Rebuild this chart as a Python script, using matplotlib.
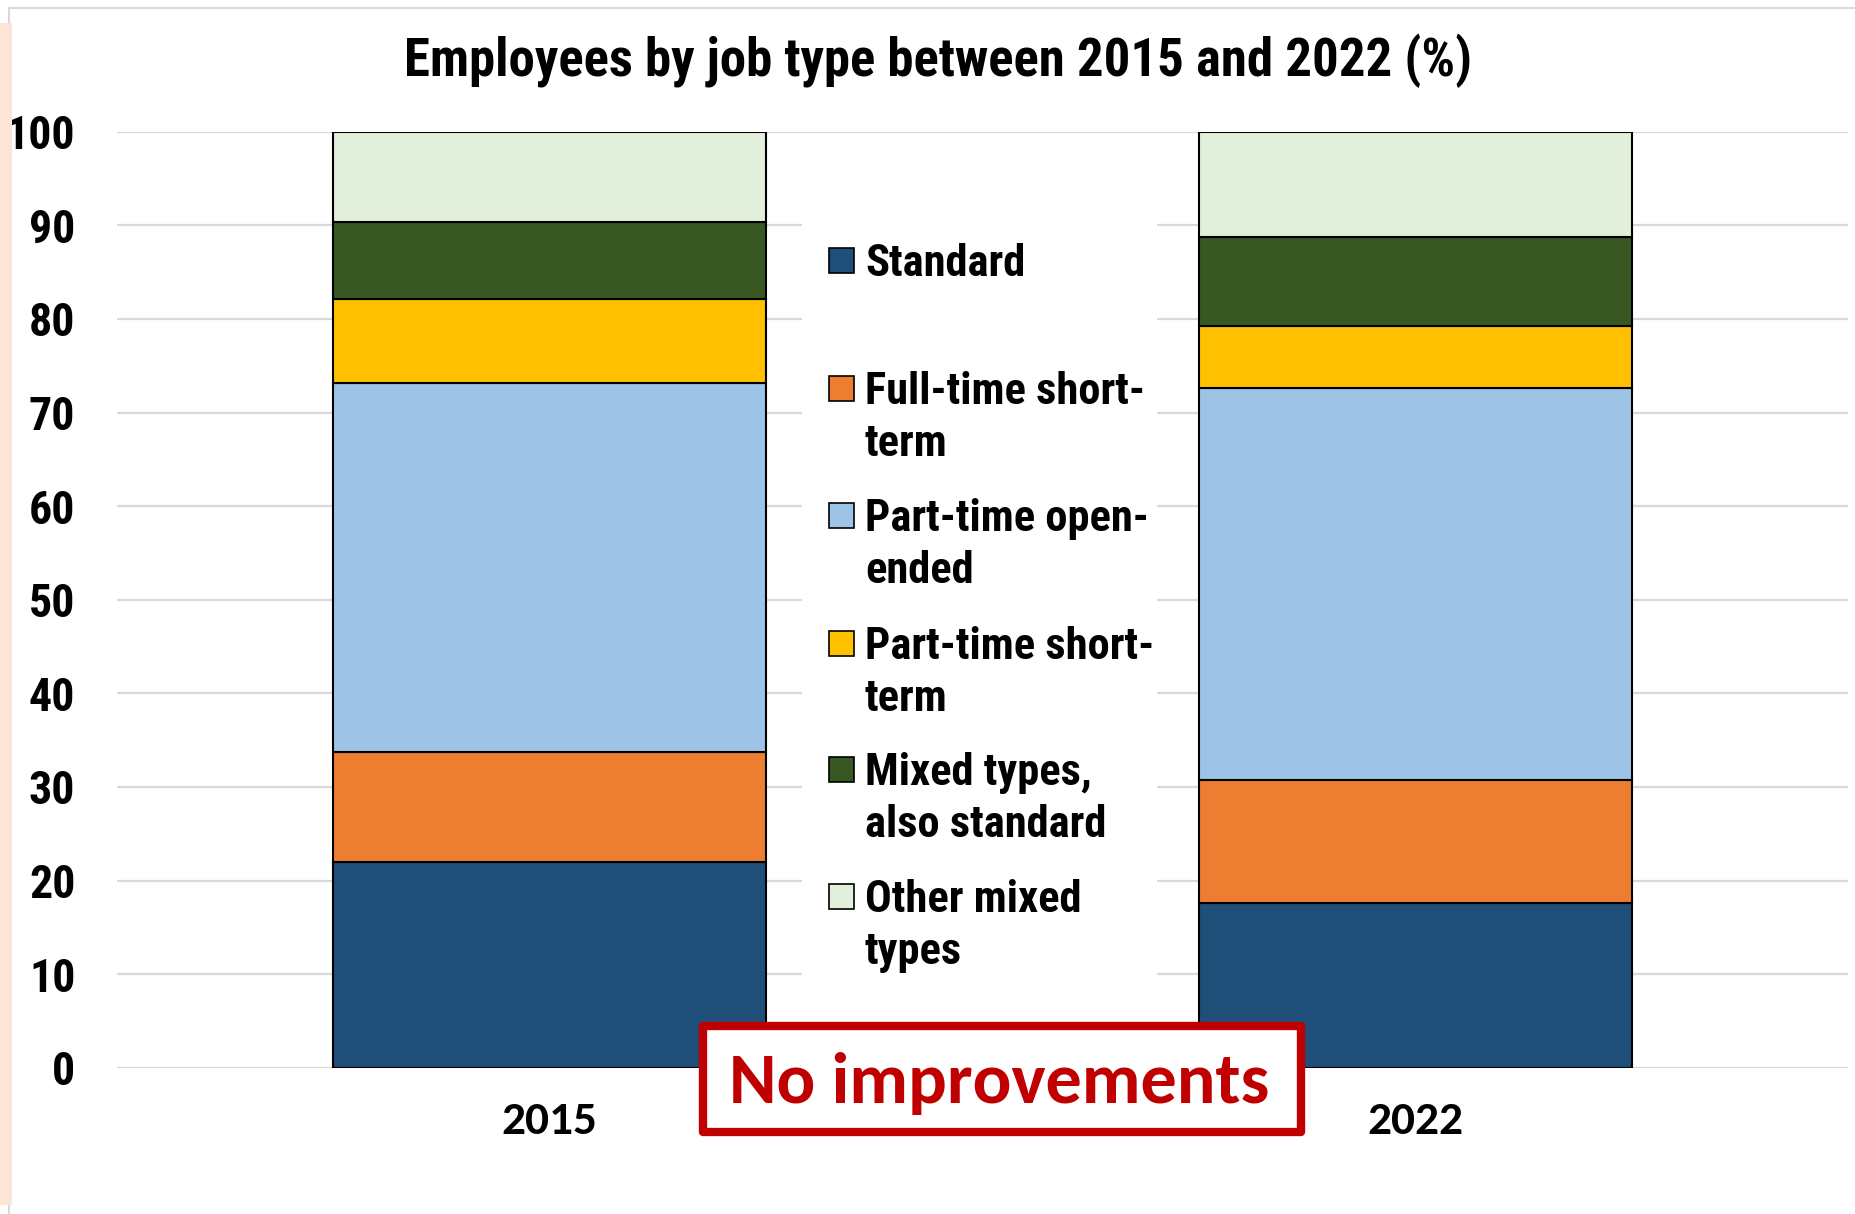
import matplotlib
matplotlib.use("Agg")
import matplotlib.pyplot as plt
from matplotlib import font_manager
from matplotlib.patches import Rectangle
import numpy as np

# shares of employees by job type (%), bottom to top of each bar
years = ["2015", "2022"]
standard = [22.0, 17.6]
ft_short = [11.7, 13.1]
pt_open = [39.5, 41.9]
pt_short = [8.9, 6.6]
mixed_std = [8.2, 9.6]
mixed_other = [9.7, 11.2]

labels = ["Standard", "Full-time short-\nterm", "Part-time open-\nended",
          "Part-time short-\nterm", "Mixed types,\nalso standard", "Other mixed\ntypes"]
colors = ["#1F4E79", "#ED7D31", "#9DC3E6", "#FFC000", "#385723", "#E2EFDA"]

W, H = 1856, 1214

installed = {f.name for f in font_manager.fontManager.ttflist}


def pick(prefs, last="DejaVu Sans"):
    got = [p for p in prefs if p in installed]
    return got[:1] + [last]


NARROW = pick(["Liberation Sans Narrow", "Nimbus Sans Narrow", "Arial Narrow",
               "Roboto Condensed", "PT Sans Narrow", "Encode Sans Condensed"])
CALI = pick(["Carlito", "Calibri", "Lato"])


def fx(px):
    return px / W


def fy(py):
    return 1 - py / H


fig = plt.figure(figsize=(W / 100, H / 100), dpi=100)
fig.patch.set_facecolor("white")

ax = fig.add_axes([fx(117), fy(1067.7), fx(1848) - fx(117), (1067.7 - 131.7) / H])

series = [standard, ft_short, pt_open, pt_short, mixed_std, mixed_other]
x = np.arange(len(years))
bottom = np.zeros(len(years))
for vals, col in zip(series, colors):
    ax.bar(x, vals, bottom=bottom, width=0.5, color=col, edgecolor="black",
           linewidth=1.5, zorder=3)
    bottom += np.array(vals)

ax.set_xlim(-0.5, 1.5)
ax.set_ylim(0, 100)
ax.set_yticks(np.arange(0, 101, 10))
ax.yaxis.grid(True, color="#D9D9D9", linewidth=1.6, zorder=0)
ax.set_axisbelow(True)
for s in ax.spines.values():
    s.set_visible(False)
ax.tick_params(axis="both", length=0)
ax.tick_params(axis="y", pad=30)
ax.tick_params(axis="x", pad=24)
ax.set_xticks(x)
ax.set_xticklabels(years)
for lab in ax.get_yticklabels():
    lab.set_family(NARROW)
    lab.set_fontweight("bold")
    lab.set_fontsize(33)
for lab in ax.get_xticklabels():
    lab.set_family(CALI)
    lab.set_fontweight("bold")
    lab.set_fontsize(34)

fig.text(fx(938), fy(61), "Employees by job type between 2015 and 2022 (%)",
         ha="center", va="center", family=NARROW, fontweight="bold", fontsize=38)

# legend drawn by hand on a white panel between the bars
fig.add_artist(Rectangle((fx(802), fy(1000)), fx(1157) - fx(802), (1000 - 190) / H,
                         transform=fig.transFigure, facecolor="white", edgecolor="none", zorder=1))
first_line = [260, 388, 515, 643, 769, 896]
for lab, col, yc in zip(labels, colors, first_line):
    fig.add_artist(Rectangle((fx(829), fy(yc + 12.5)), 25 / W, 25 / H,
                             transform=fig.transFigure, facecolor=col,
                             edgecolor="black", linewidth=1.2, zorder=2))
    for k, line in enumerate(lab.split("\n")):
        fig.text(fx(865), fy(yc + 16 + 52 * k), line, ha="left", va="baseline",
                 family=NARROW, fontweight="bold", fontsize=32, zorder=3)

# red stamp over the bottom of the chart
fig.add_artist(Rectangle((fx(703), fy(1132)), fx(1301) - fx(703), (1132 - 1026) / H,
                         transform=fig.transFigure, facecolor="white", edgecolor="#C00000",
                         linewidth=6, joinstyle="round", zorder=4))
fig.text(fx(999), fy(1103), "No improvements", ha="center", va="baseline",
         color="#C00000", family=CALI, fontweight="bold", fontsize=52, zorder=5)

# page edge on the left
fig.add_artist(Rectangle((0, fy(1205)), fx(12), (1205 - 23) / H, transform=fig.transFigure,
                         facecolor="#FBE5D6", edgecolor="none", zorder=1))
fig.add_artist(plt.Line2D([fx(9), 1], [fy(8), fy(8)], transform=fig.transFigure,
                          color="#D9D9D9", linewidth=1.5))
fig.add_artist(plt.Line2D([fx(9), fx(9)], [fy(8), 0], transform=fig.transFigure,
                          color="#D9D9D9", linewidth=1.5, zorder=0.5))

fig.savefig("out.png", dpi=100)
